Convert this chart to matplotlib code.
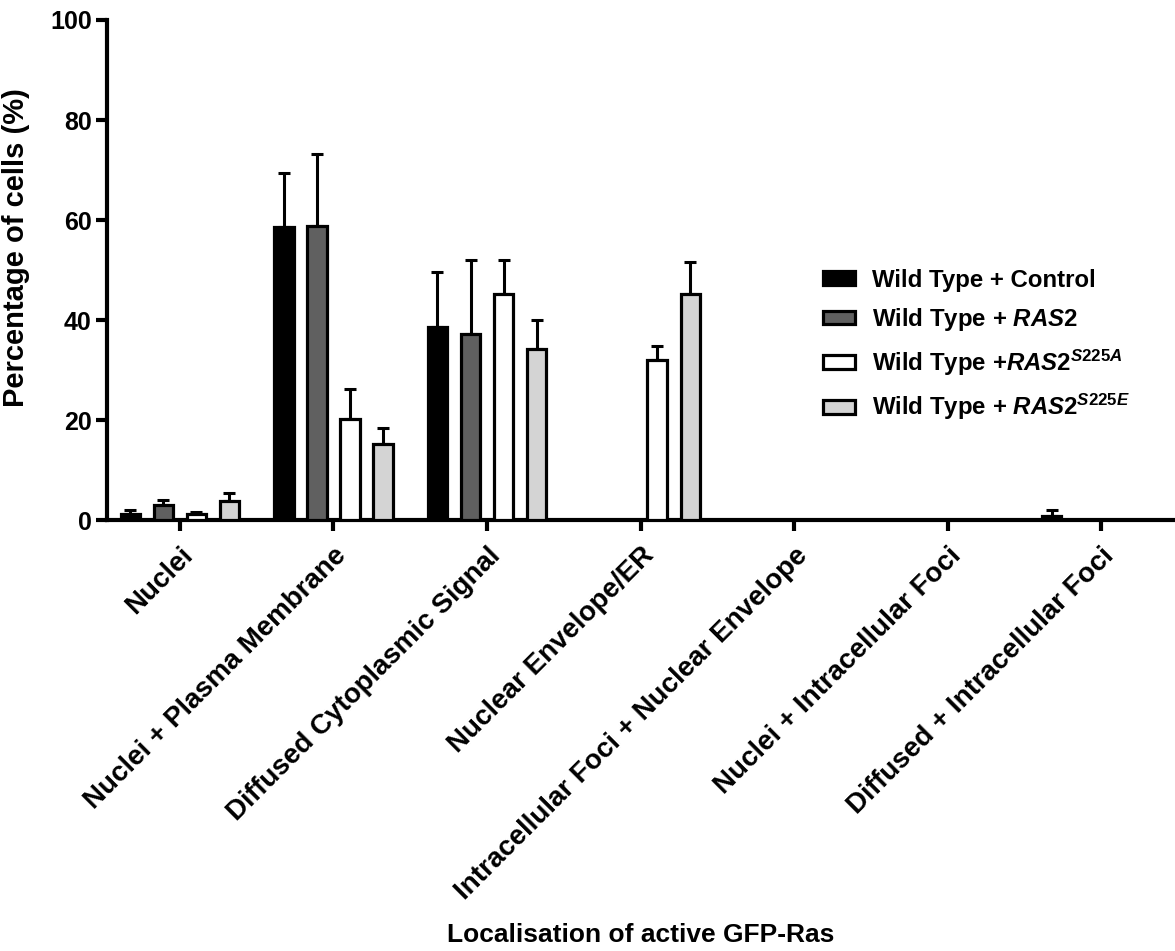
import numpy as np
import matplotlib.pyplot as plt
from matplotlib.patches import Patch

plt.rcParams['font.family'] = 'Liberation Sans'
plt.rcParams['font.weight'] = 'bold'
plt.rcParams['mathtext.fontset'] = 'custom'
plt.rcParams['mathtext.rm'] = 'Liberation Sans:bold'
plt.rcParams['mathtext.it'] = 'Liberation Sans:bold:italic'
plt.rcParams['mathtext.bf'] = 'Liberation Sans:bold'

categories = ['Nuclei', 'Nuclei + Plasma Membrane', 'Diffused Cytoplasmic Signal',
              'Nuclear Envelope/ER', 'Intracellular Foci + Nuclear Envelope',
              'Nuclei + Intracellular Foci', 'Diffused + Intracellular Foci']

# mean % of cells and upper error (SD) for each strain
control = [1.3, 58.7, 38.7, 0, 0, 0, 0.9]
control_err = [0.8, 10.8, 11.0, 0, 0, 0, 1.2]
ras2 = [3.1, 58.8, 37.3, 0, 0, 0, 0]
ras2_err = [1.0, 14.5, 14.7, 0, 0, 0, 0]
s225a = [1.2, 20.2, 45.3, 32.0, 0, 0, 0]
s225a_err = [0.4, 6.0, 6.7, 2.8, 0, 0, 0]
s225e = [3.9, 15.3, 34.3, 45.2, 0, 0, 0]
s225e_err = [1.6, 3.2, 5.7, 6.5, 0, 0, 0]

labels = ['Wild Type + Control',
          r'Wild Type + $\mathit{RAS2}$',
          r'Wild Type +$\mathit{RAS2}^{S225A}$',
          r'Wild Type + $\mathit{RAS2}^{S225E}$']
colors = ['black', '#606060', 'white', '#d4d4d4']

fig = plt.figure(figsize=(11.75, 9.51), dpi=100)
ax = fig.add_axes([0.091, 0.453, 0.909, 0.526])

x = np.arange(len(categories))
step = 0.215
width = 0.125
series = [(control, control_err), (ras2, ras2_err), (s225a, s225a_err), (s225e, s225e_err)]
for i, (vals, errs) in enumerate(series):
    pos = x + (i - 1.5) * step
    vals = np.array(vals, dtype=float)
    errs = np.array(errs, dtype=float)
    ax.bar(pos, vals, width, color=colors[i], edgecolor='black', linewidth=2.3, zorder=3)
    show = vals > 0
    ax.errorbar(pos[show], vals[show], yerr=[np.zeros(show.sum()), errs[show]],
                fmt='none', ecolor='black', elinewidth=2.2, capsize=4, capthick=2.2, zorder=2)

ax.set_xlim(-0.475, 6.48)
ax.set_ylim(0, 100)
ax.set_yticks([0, 20, 40, 60, 80, 100])
ax.set_xticks(x)
ax.set_xticklabels(categories, rotation=45, ha='right', rotation_mode='anchor', fontsize=20)
ax.tick_params(axis='y', labelsize=18, width=3, length=8, pad=3)
ax.tick_params(axis='x', width=3, length=8, pad=8)
for lbl in ax.get_yticklabels():
    lbl.set_fontweight('bold')
for lbl in ax.get_xticklabels():
    lbl.set_fontweight('bold')
ax.spines['top'].set_visible(False)
ax.spines['right'].set_visible(False)
ax.spines['left'].set_linewidth(3)
ax.spines['bottom'].set_linewidth(3)

ax.set_ylabel('Percentage of cells (%)', fontsize=21, fontweight='bold')
ax.yaxis.set_label_coords(-0.072, 0.546)
fig.text(0.545, 0.009, 'Localisation of active GFP-Ras', fontsize=19, fontweight='bold', ha='center')

handles = [Patch(facecolor=c, edgecolor='black', linewidth=2.3) for c in colors]
ax.legend(handles, labels, loc='upper left', bbox_to_anchor=(0.65, 0.546), frameon=False,
          fontsize=17.3, handlelength=1.35, handleheight=0.5, labelspacing=0.6, handletextpad=0.7)

fig.savefig('out.png', dpi=100)
